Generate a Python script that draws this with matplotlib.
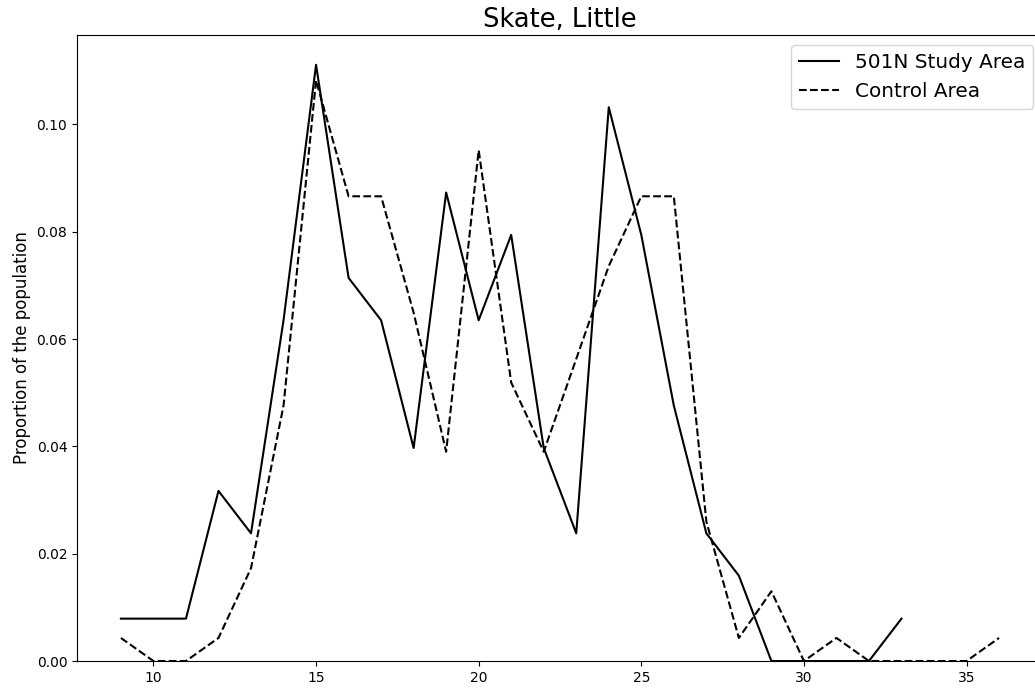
import numpy as np
import matplotlib
matplotlib.use("Agg")
import matplotlib.pyplot as plt

# length classes
study_x = list(range(9, 34))
control_x = list(range(9, 37))

# proportion of the population
study_prop = [0.0079, 0.0079, 0.0079, 0.0317, 0.0238, 0.0635, 0.1111, 0.0714,
              0.0635, 0.0397, 0.0873, 0.0635, 0.0794, 0.0397, 0.0238, 0.1032,
              0.0794, 0.0476, 0.0238, 0.0159, 0.0, 0.0, 0.0, 0.0, 0.0079]
control_prop = [0.0043, 0.0, 0.0, 0.0043, 0.0173, 0.0476, 0.1082, 0.0866,
                0.0866, 0.0649, 0.0390, 0.0952, 0.0519, 0.0390, 0.0563, 0.0736,
                0.0866, 0.0866, 0.0260, 0.0043, 0.0130, 0.0, 0.0043, 0.0, 0.0,
                0.0, 0.0, 0.0043]

fig = plt.figure(figsize=(10.35, 6.89), dpi=100)
# axes runs slightly past the right edge, as in the cropped original
ax = fig.add_axes([0.0744, 0.0406, 0.9333, 0.9086])

ax.plot(study_x, study_prop, color='k', linestyle='-', label='501N Study Area')
ax.plot(control_x, control_prop, color='k', linestyle='--', label='Control Area')

ax.set_ylim(bottom=0)
ax.set_title('Skate, Little', fontsize=18.5)
ax.set_ylabel('Proportion of the population', fontsize=12)
ax.legend(loc='upper right', fontsize=14.4)

fig.savefig('out.png', dpi=100)
